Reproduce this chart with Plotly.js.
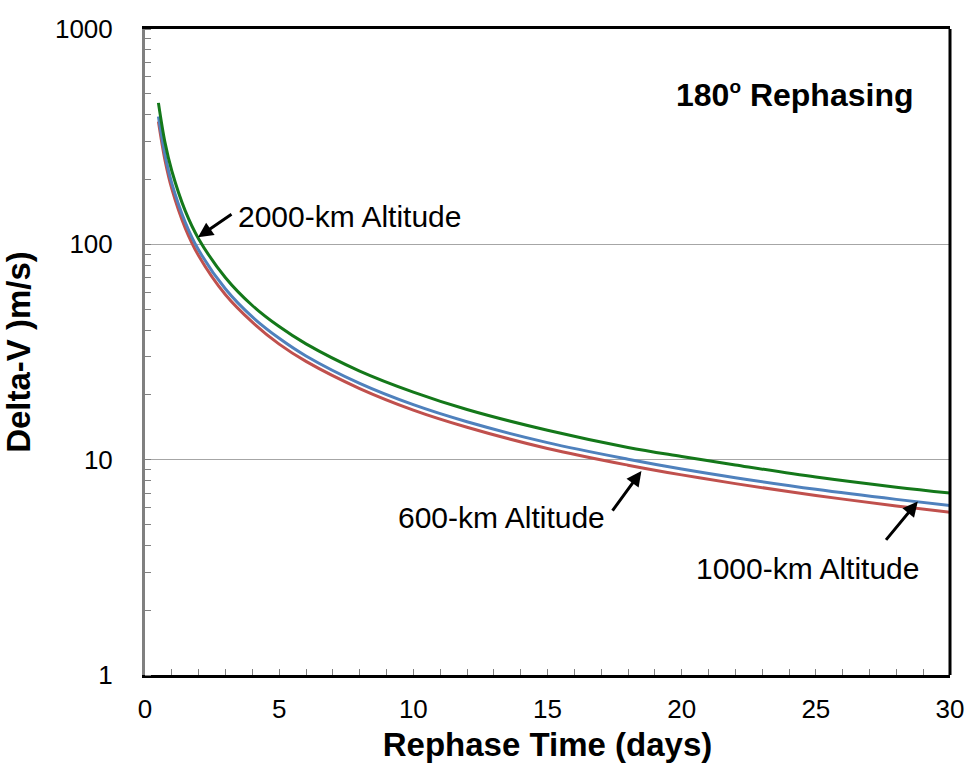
<!DOCTYPE html>
<html>
<head>
<meta charset="utf-8">
<script src="https://cdn.plot.ly/plotly-3.0.1.min.js"></script>
<style>
  html, body { margin: 0; padding: 0; background: #ffffff; }
  #chart { width: 969px; height: 771px; }
</style>
</head>
<body>
<div id="chart"></div>
<script>
// Rephase time (days)
const rephaseDays = [0.5, 0.75, 1, 1.5, 2, 3, 4, 5, 6, 8, 10, 12, 15, 18, 20, 22, 25, 28, 30];
// Delta-V (m/s) for each altitude
const dv600km  = [372, 244, 181, 119, 88.5, 58.3, 43.5, 34.4, 28.6, 21.4, 17.0, 14.15, 11.27, 9.43, 8.5, 7.74, 6.82, 6.1, 5.7];
const dv1000km = [392, 259, 192, 126.7, 94, 62, 46, 36.6, 30.3, 22.6, 18.0, 15.0, 12.0, 10.05, 9.05, 8.25, 7.28, 6.54, 6.13];
const dv2000km = [454, 295, 219, 143, 106, 70, 52, 41.5, 34.5, 25.8, 20.6, 17.1, 13.7, 11.4, 10.35, 9.45, 8.3, 7.45, 7.0];

const seriesNames = ['600-km Altitude', '1000-km Altitude', '2000-km Altitude'];
const xTickVals = [0, 5, 10, 15, 20, 25, 30];
const yTickVals = [1, 10, 100, 1000];
const yTickText = ['1', '10', '100', '1000'];

const FONT = 'Liberation Sans, Arial, sans-serif';

const traces = [
  { x: rephaseDays, y: dv600km,  name: seriesNames[0], mode: 'lines', line: { color: '#C0504D', width: 3, shape: 'spline' } },
  { x: rephaseDays, y: dv1000km, name: seriesNames[1], mode: 'lines', line: { color: '#4F81BD', width: 3, shape: 'spline' } },
  { x: rephaseDays, y: dv2000km, name: seriesNames[2], mode: 'lines', line: { color: '#14781A', width: 3, shape: 'spline' } }
];

const layout = {
  width: 969, height: 771,
  margin: { l: 145, r: 19, t: 29, b: 96 },
  paper_bgcolor: '#ffffff', plot_bgcolor: '#ffffff',
  showlegend: false,
  font: { family: FONT, color: '#000000' },
  xaxis: {
    range: [0, 30],
    tickvals: xTickVals,
    ticks: 'inside', ticklen: 6, tickcolor: '#808080', tickwidth: 1,
    minor: { dtick: 1, ticks: 'inside', ticklen: 6, tickcolor: '#808080', tickwidth: 1, showgrid: false },
    showgrid: false, zeroline: false,
    showline: true, linecolor: '#000000', linewidth: 3, mirror: true,
    tickfont: { size: 26, family: FONT, color: '#000000' },
    ticklabelstandoff: 9,
    title: { text: 'Rephase Time (days)', font: { size: 33, family: FONT, color: '#000000', weight: 'bold' }, standoff: 10 }
  },
  yaxis: {
    type: 'log',
    range: [0, 3],
    tickvals: yTickVals, ticktext: yTickText,
    ticks: '',
    minor: { dtick: 'D1', ticks: 'inside', ticklen: 6, tickcolor: '#808080', tickwidth: 1, showgrid: false },
    showgrid: true, gridcolor: '#A6A6A6', gridwidth: 1,
    zeroline: false,
    showline: true, linecolor: '#808080', linewidth: 3, mirror: false,
    tickfont: { size: 26, family: FONT, color: '#000000' },
    ticklabelstandoff: 24,
    title: { text: 'Delta-V )m/s)', font: { size: 33, family: FONT, color: '#000000', weight: 'bold' }, standoff: 16 }
  },
  shapes: [
    { type: 'line', xref: 'paper', yref: 'paper', x0: 1, x1: 1, y0: 0, y1: 1, line: { color: '#000000', width: 3 } }
  ],
  annotations: [
    { xref: 'paper', yref: 'paper', x: 0.9565, y: 0.898, xanchor: 'right', yanchor: 'middle', showarrow: false,
      text: '<b>180<sup><span style="font-size:19px">o</span></sup> Rephasing</b>', font: { size: 32, family: FONT, color: '#000000' } },
    // 2000-km
    { x: 1.975, y: Math.log10(107.8), xref: 'x', yref: 'y', showarrow: true, text: '', ax: 35, ay: -24,
      arrowhead: 2, arrowsize: 1, arrowwidth: 3, arrowcolor: '#000000' },
    { xref: 'paper', yref: 'paper', x: (236 - 145) / 805, y: (675 - 216) / 646, xanchor: 'left', yanchor: 'middle', showarrow: false,
      text: '2000-km Altitude', font: { size: 30, family: FONT, color: '#000000' } },
    // 600-km
    { x: 18.5, y: Math.log10(8.85), xref: 'x', yref: 'y', showarrow: true, text: '', ax: -30, ay: 41,
      arrowhead: 2, arrowsize: 1, arrowwidth: 3, arrowcolor: '#000000' },
    { xref: 'paper', yref: 'paper', x: (607 - 145) / 805, y: (675 - 517) / 646, xanchor: 'right', yanchor: 'middle', showarrow: false,
      text: '600-km Altitude', font: { size: 30, family: FONT, color: '#000000' } },
    // 1000-km
    { x: 28.8, y: Math.log10(6.4), xref: 'x', yref: 'y', showarrow: true, text: '', ax: -33, ay: 40,
      arrowhead: 2, arrowsize: 1, arrowwidth: 3, arrowcolor: '#000000' },
    { xref: 'paper', yref: 'paper', x: (921 - 145) / 805, y: (675 - 568) / 646, xanchor: 'right', yanchor: 'middle', showarrow: false,
      text: '1000-km Altitude', font: { size: 30, family: FONT, color: '#000000' } }
  ]
};

Plotly.newPlot('chart', traces, layout, { displayModeBar: false, staticPlot: true });
</script>
</body>
</html>
